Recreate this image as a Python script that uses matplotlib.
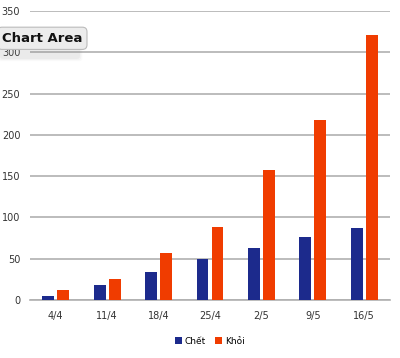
import numpy as np
import matplotlib.pyplot as plt
from matplotlib.patches import FancyBboxPatch

# data
weeks = ["4/4", "11/4", "18/4", "25/4", "2/5", "9/5", "16/5"]
chet = [5, 18, 34, 50, 63, 76, 87]
khoi = [12, 26, 57, 89, 157, 218, 321]
yticks = [0, 50, 100, 150, 200, 250, 300, 350]

NAVY = "#1c2a8c"
ORANGE = "#f03c00"
GRID = "#b0b0b0"

fig = plt.figure(figsize=(4.0, 3.58), dpi=100)
ax = fig.add_axes([0.075, 0.162, 0.90, 0.807])

x = np.arange(len(weeks))
w = 0.23
ax.bar(x - 0.145, chet, width=w, color=NAVY, label="Chết", zorder=3)
ax.bar(x + 0.145, khoi, width=w, color=ORANGE, label="Khỏi", zorder=3)

ax.set_xlim(-0.5, len(weeks) - 0.5)
ax.set_ylim(0, 350)
ax.set_yticks(yticks)
ax.set_xticks(x)
ax.set_xticklabels(weeks)
ax.yaxis.grid(True, color=GRID, linewidth=1.2, zorder=0)
for s in ["top", "right", "left"]:
    ax.spines[s].set_visible(False)
ax.spines["bottom"].set_color(GRID)
ax.spines["bottom"].set_linewidth(1.2)
ax.tick_params(axis="both", length=0, labelsize=7, colors="#333333")
ax.tick_params(axis="y", pad=7)
ax.tick_params(axis="x", pad=8)

ax.legend(loc="upper center", bbox_to_anchor=(0.5, -0.1), ncol=2,
          frameon=False, fontsize=6.5, handlelength=0.8, handleheight=0.8,
          handletextpad=0.3, columnspacing=1.0)

# "Chart Area" tooltip with a soft shadow
for i, a in enumerate([0.04, 0.06, 0.08]):
    g = 0.008 - i * 0.003
    sh = FancyBboxPatch((0.01 - g, 0.845 - g), 0.18 + 2 * g, 0.06 + 2 * g,
                        boxstyle="round,pad=0.008", transform=fig.transFigure,
                        facecolor="#888888", edgecolor="none", alpha=a, zorder=9)
    fig.patches.append(sh)
fig.text(0.005, 0.893, "Chart Area", fontsize=9.5, fontweight="bold",
         color="#111111", va="center", ha="left", zorder=11,
         bbox=dict(boxstyle="round,pad=0.35", facecolor="#ececec",
                   edgecolor="#bbbbbb", linewidth=0.8))

fig.savefig("out.png", dpi=100)
